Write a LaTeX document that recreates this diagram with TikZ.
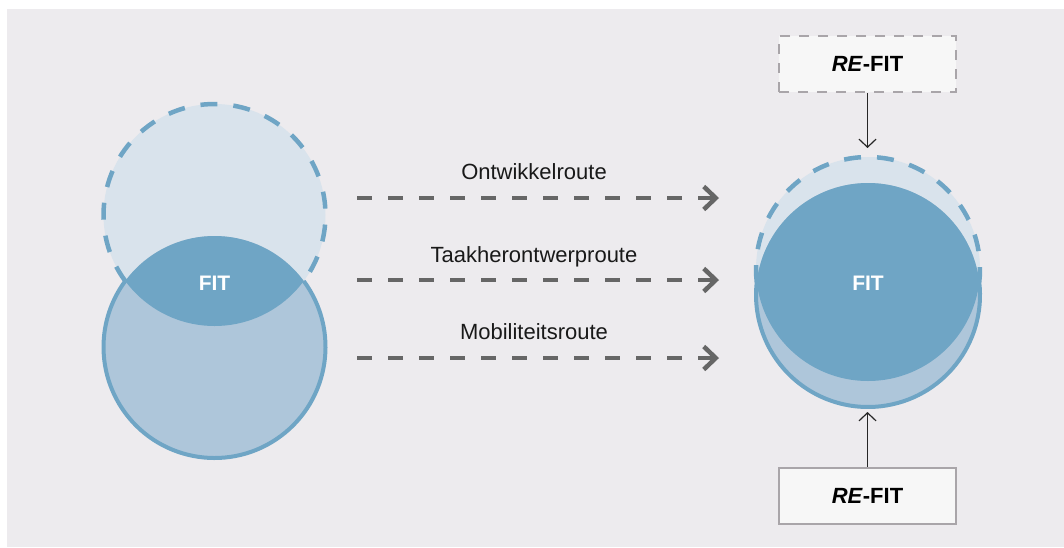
\documentclass[tikz,border=0pt]{standalone}
\usepackage{fontspec}
\setmainfont{Liberation Sans}
\usetikzlibrary{arrows.meta}
\definecolor{bgc}{HTML}{EDEBEE}
\definecolor{lightc}{HTML}{D9E3EC}
\definecolor{midc}{HTML}{AEC6DA}
\definecolor{darkc}{HTML}{6FA5C5}
\definecolor{arrowc}{HTML}{666666}
\definecolor{boxfill}{HTML}{F7F7F7}
\definecolor{boxline}{HTML}{A9A5A9}
\tikzset{
  routearrow/.style={draw=arrowc, line width=4.5pt, dash pattern=on 15pt off 16pt,
    -{Straight Barb[length=12pt,width=23pt,line width=4.5pt]}},
  thinarrow/.style={draw=black!85, line width=1.2pt, -{Straight Barb[length=8pt,width=17pt,line width=1.2pt]}},
  routelabel/.style={font=\fontsize{22}{26}\selectfont, text=black!90, inner sep=0pt},
  fitlabel/.style={font=\fontsize{21}{25}\selectfont\bfseries, text=white, inner sep=0pt},
  refitbox/.style={fill=boxfill, minimum width=177pt, minimum height=56pt, inner sep=0pt,
    font=\fontsize{22}{26}\selectfont\bfseries, text=black},
  dashedrim/.style={draw=darkc, line width=4.5pt, dash pattern=on 17pt off 16pt},
  solidrim/.style={draw=darkc, line width=4pt},
}
\begin{document}
\begin{tikzpicture}[x=1pt,y=-1pt]
\useasboundingbox (0,0) rectangle (1064,547);
\fill[white] (0,0) rectangle (1064,547);
\fill[bgc] (7,9) rectangle (1064,547);

% ---------- left pair of circles ----------
\coordinate (LU) at (214.5,215);
\coordinate (LL) at (214.5,347);
\fill[lightc] (LU) circle[radius=111];
\fill[midc] (LL) circle[radius=111];
\begin{scope}
  \clip (LU) circle[radius=111];
  \fill[darkc] (LL) circle[radius=111];
\end{scope}
\draw[dashedrim] (LU) ++(143.5:111) arc[start angle=143.5, end angle=396.5, radius=111];
\draw[solidrim] (LL) ++(-36.5:111) arc[start angle=-36.5, end angle=216.5, radius=111];
\node[fitlabel] (fitL) at (214.5,283) {FIT};

% ---------- right pair of circles ----------
\coordinate (RU) at (868,269);
\coordinate (RL) at (868,295);
\fill[lightc] (RU) circle[radius=112];
\fill[midc] (RL) circle[radius=112];
\begin{scope}
  \clip (RU) circle[radius=112];
  \fill[darkc] (RL) circle[radius=112];
\end{scope}
\draw[dashedrim] (RU) ++(173.3:112) arc[start angle=173.3, end angle=366.7, radius=112];
\draw[solidrim] (RL) ++(-6.7:112) arc[start angle=-6.7, end angle=186.7, radius=112];
\node[fitlabel] (fitR) at (868,283) {FIT};

% ---------- routes ----------
\coordinate (a1s) at (357,198); \coordinate (a1e) at (719,198);
\coordinate (a2s) at (357,280); \coordinate (a2e) at (719,280);
\coordinate (a3s) at (357,358); \coordinate (a3e) at (719,358);
\draw[routearrow] (a1s) -- (a1e);
\draw[routearrow] (a2s) -- (a2e);
\draw[routearrow] (a3s) -- (a3e);
\node[routelabel, anchor=base] (l1) at (534,179) {Ontwikkelroute};
\node[routelabel, anchor=base] (l2) at (534,262) {Taakherontwerproute};
\node[routelabel, anchor=base] (l3) at (534,339) {Mobiliteitsroute};

% ---------- RE-FIT boxes ----------
\node[refitbox, draw=boxline, line width=2.5pt, dash pattern=on 10pt off 9pt] (topbox) at (867.5,64) {\textit{RE}-FIT};
\node[refitbox, draw=boxline, line width=2.5pt] (botbox) at (867.5,496) {\textit{RE}-FIT};
\coordinate (toptip) at (867.5,148);
\coordinate (bottip) at (867.5,412);
\draw[thinarrow] (topbox.south) -- (toptip);
\draw[thinarrow] (botbox.north) -- (bottip);
\end{tikzpicture}
\end{document}
